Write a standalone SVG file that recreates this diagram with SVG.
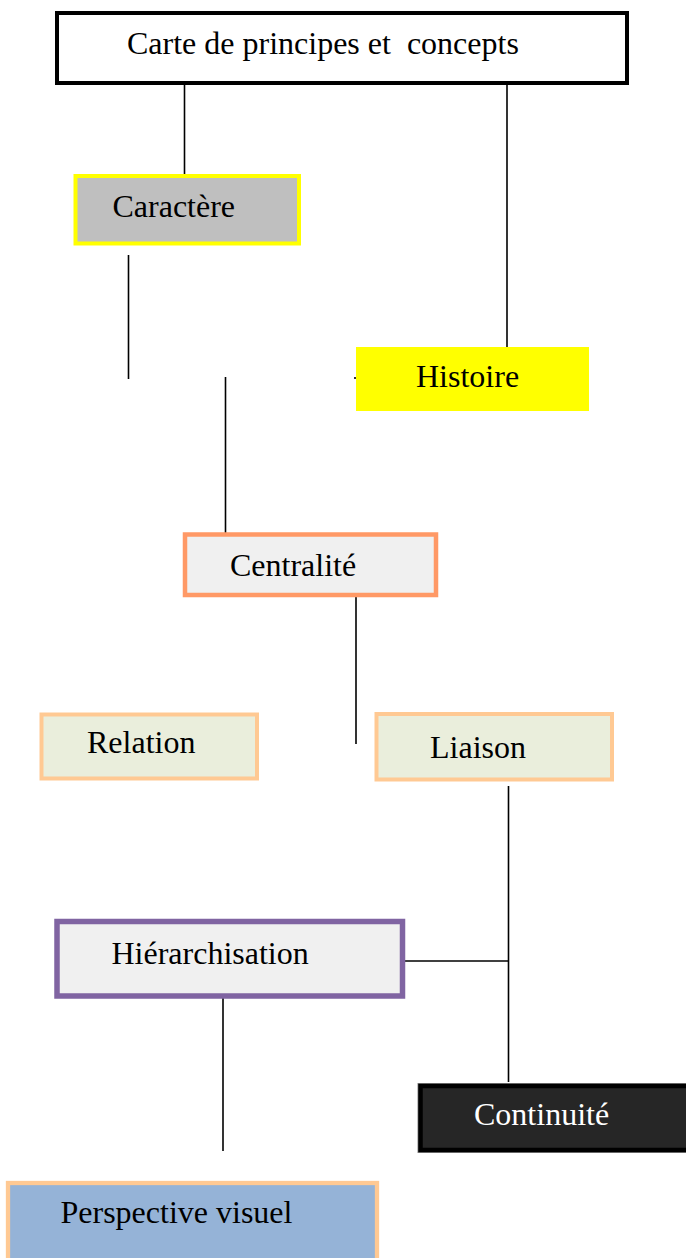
<svg xmlns="http://www.w3.org/2000/svg" width="686" height="1258" viewBox="0 0 686 1258">
<style>
  text { font-family: "Liberation Serif", "Times New Roman", serif; font-size: 32px; fill: #000; white-space: pre; }
  .conn line { stroke: #000; stroke-width: 1.6; }
</style>
<rect x="0" y="0" width="686" height="1258" fill="#fff"/>
<g id="connectors" class="conn">
  <line x1="184.5" y1="84" x2="184.5" y2="175"/>
  <line x1="507" y1="84" x2="507" y2="347"/>
  <line x1="128.5" y1="255" x2="128.5" y2="379"/>
  <line x1="225.5" y1="377" x2="225.5" y2="533"/>
  <line x1="354" y1="378" x2="357" y2="378"/>
  <line x1="356" y1="597" x2="356" y2="744"/>
  <line x1="508.5" y1="786" x2="508.5" y2="1082"/>
  <line x1="405" y1="961" x2="508.5" y2="961"/>
  <line x1="223" y1="998" x2="223" y2="1151"/>
</g>
<g id="node-carte">
  <rect x="57" y="13" width="570" height="70" fill="#fff" stroke="#000" stroke-width="4"/>
  <text x="127" y="54">Carte de principes et  concepts</text>
</g>
<g id="node-caractere">
  <rect x="75.5" y="176" width="223.5" height="67.5" fill="#BFBFBF" stroke="#FFFF00" stroke-width="4"/>
  <text x="112.5" y="217">Caractère</text>
</g>
<g id="node-histoire">
  <rect x="356" y="347" width="233" height="64" fill="#FFFF00"/>
  <text x="416" y="387">Histoire</text>
</g>
<g id="node-centralite">
  <rect x="185" y="534.5" width="251" height="60.5" fill="#F0F0F0" stroke="#FF9966" stroke-width="4.5"/>
  <text x="230" y="576">Centralité</text>
</g>
<g id="node-relation">
  <rect x="41.5" y="714.5" width="215.5" height="64" fill="#EAEEDC" stroke="#FFC993" stroke-width="4"/>
  <text x="87" y="753">Relation</text>
</g>
<g id="node-liaison">
  <rect x="376.5" y="714" width="235.5" height="65.5" fill="#EAEEDC" stroke="#FFC993" stroke-width="4"/>
  <text x="430" y="758">Liaison</text>
</g>
<g id="node-hierarchisation">
  <rect x="57" y="921.5" width="345.5" height="74.5" fill="#F0F0F0" stroke="#8064A2" stroke-width="5.5"/>
  <text x="111.5" y="964">Hiérarchisation</text>
</g>
<g id="node-continuite">
  <rect x="417.5" y="1083" width="275" height="70" fill="#888"/>
  <rect x="420.5" y="1086" width="269" height="64" fill="#262626" stroke="#000" stroke-width="4.5"/>
  <text x="474" y="1125" style="fill:#fff">Continuité</text>
</g>
<g id="node-perspective">
  <rect x="8" y="1183" width="369" height="90" fill="#95B3D7" stroke="#FFC993" stroke-width="4.3"/>
  <text x="60.5" y="1223">Perspective visuel</text>
</g>
</svg>
